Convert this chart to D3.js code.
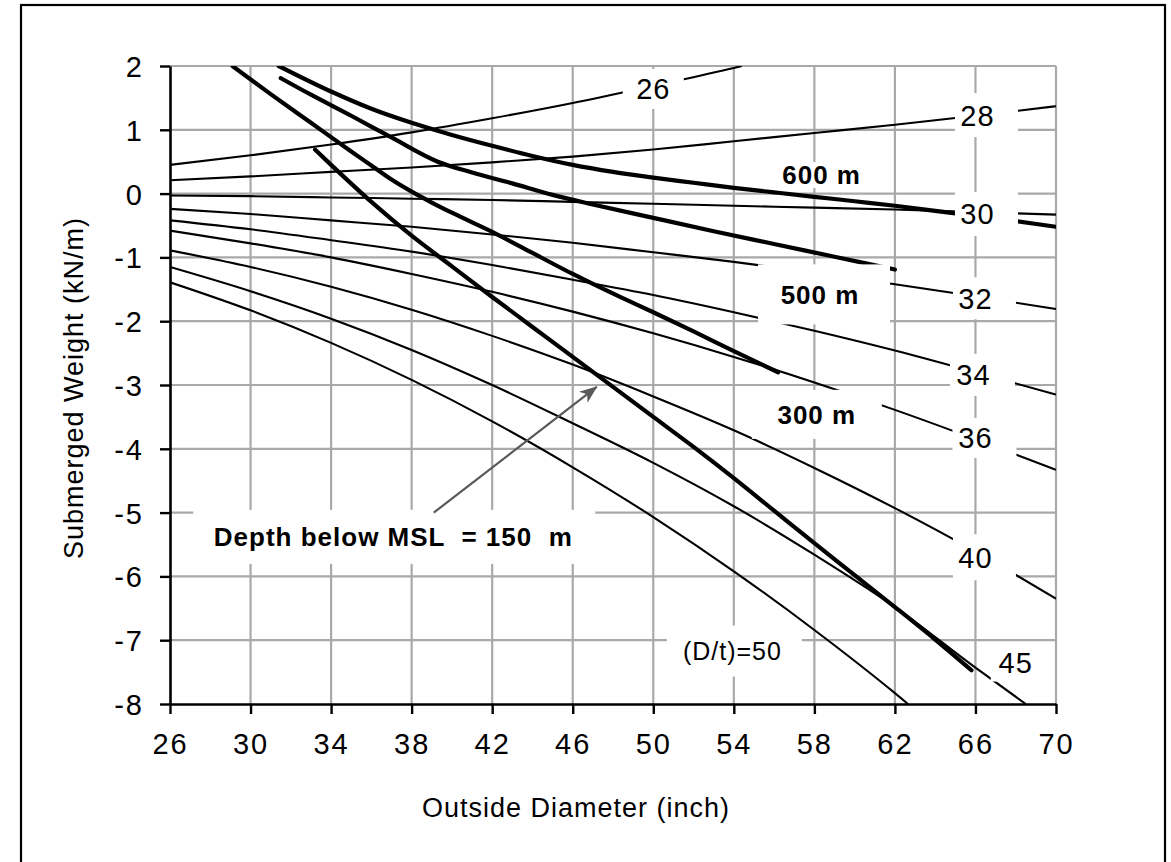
<!DOCTYPE html>
<html>
<head>
<meta charset="utf-8">
<script src="https://cdn.jsdelivr.net/npm/d3@7"></script>
<style>
  body { margin: 0; background: #fff; }
  svg text { font-family: "Liberation Sans", Arial, sans-serif; fill: #000; }
</style>
</head>
<body>
<script>
// Tick values
const xTicks = [26, 30, 34, 38, 42, 46, 50, 54, 58, 62, 66, 70];
const yTicks = [-8, -7, -6, -5, -4, -3, -2, -1, 0, 1, 2];

// Constant D/t curves: [outside diameter (inch), submerged weight (kN/m)]
const dt26 = [[26,0.45],[30,0.60],[34,0.77],[38,0.96],[42,1.18],[46,1.42],[50,1.69],[54,1.97],[54.4,2.0]];
const dt28 = [[26,0.21],[30,0.27],[34,0.34],[38,0.41],[42,0.49],[46,0.58],[50,0.69],[54,0.82],[58,0.95],[62,1.08],[66,1.22],[70,1.37]];
const dt30 = [[26,-0.03],[30,-0.04],[34,-0.06],[38,-0.08],[42,-0.10],[46,-0.13],[50,-0.16],[54,-0.19],[58,-0.22],[62,-0.25],[66,-0.29],[70,-0.33]];
const dt32 = [[26,-0.24],[30,-0.32],[34,-0.42],[38,-0.52],[42,-0.64],[46,-0.77],[50,-0.92],[54,-1.07],[58,-1.24],[62,-1.42],[66,-1.61],[70,-1.81]];
const dt34 = [[26,-0.42],[30,-0.56],[34,-0.73],[38,-0.91],[42,-1.12],[46,-1.35],[50,-1.59],[54,-1.86],[58,-2.15],[62,-2.46],[66,-2.80],[70,-3.15]];
const dt36 = [[26,-0.58],[30,-0.78],[34,-1.00],[38,-1.26],[42,-1.54],[46,-1.85],[50,-2.19],[54,-2.56],[58,-2.96],[62,-3.39],[66,-3.85],[70,-4.33]];
const dt40 = [[26,-0.89],[30,-1.15],[34,-1.46],[38,-1.82],[42,-2.23],[46,-2.68],[50,-3.18],[54,-3.71],[58,-4.30],[62,-4.93],[66,-5.61],[70,-6.35]];
const dt45 = [[26,-1.15],[30,-1.53],[34,-1.96],[38,-2.45],[42,-3.00],[46,-3.60],[50,-4.22],[54,-4.90],[58,-5.66],[62,-6.48],[66,-7.43],[68.5,-8.0]];
const dt50 = [[26,-1.39],[30,-1.83],[34,-2.34],[38,-2.92],[42,-3.57],[46,-4.29],[50,-5.07],[54,-5.92],[58,-6.84],[62,-7.83],[62.65,-8.0]];

// Depth below MSL curves
const d600 = [[31.4,2.0],[34,1.60],[36,1.33],[38,1.11],[40,0.92],[42,0.75],[44,0.59],[46,0.45],[48,0.34],[50,0.25],[52,0.17],[54,0.09],[56,0.02],[58,-0.05],[60,-0.12],[62,-0.19],[64,-0.27],[66,-0.35],[68,-0.43],[70,-0.52]];
const d500 = [[31.5,1.81],[33,1.55],[35,1.22],[37,0.88],[39.3,0.50],[41,0.33],[43,0.16],[45,-0.02],[47,-0.17],[50,-0.38],[53,-0.59],[56,-0.79],[59,-0.99],[62,-1.19]];
const d300 = [[29.1,2.0],[31,1.56],[33,1.11],[35,0.66],[36,0.44],[37,0.22],[38,0.03],[39,-0.14],[40,-0.30],[42,-0.60],[44,-0.93],[46,-1.26],[48.35,-1.62],[50,-1.86],[52,-2.16],[54,-2.47],[56.2,-2.80]];
const d150 = [[33.2,0.69],[34,0.45],[36,-0.13],[38,-0.66],[40,-1.14],[42,-1.62],[44,-2.09],[46,-2.56],[48,-3.03],[50,-3.50],[52,-3.97],[54,-4.46],[56,-4.97],[58,-5.48],[60,-5.98],[62,-6.48],[64,-6.99],[65.8,-7.47]];

const thinCurves = [dt26, dt28, dt30, dt32, dt34, dt36, dt40, dt45, dt50];
const thickCurves = [d600, d500, d300, d150];

// Labels (anchored in data units), with white boxes behind them
const labels = [
  {text: "26", d: 50.0, w: 1.64, size: 29, bold: false, bw: 61, bh: 40, bdx: 0},
  {text: "28", d: 66.1, w: 1.23, size: 29, bold: false, bw: 63, bh: 44, bdx: 9},
  {text: "30", d: 66.1, w: -0.32, size: 29, bold: false, bw: 63, bh: 44, bdx: 9},
  {text: "32", d: 66.0, w: -1.64, size: 29, bold: false, bw: 63, bh: 42, bdx: 9},
  {text: "34", d: 65.9, w: -2.84, size: 29, bold: false, bw: 65, bh: 42, bdx: 9},
  {text: "36", d: 66.0, w: -3.83, size: 29, bold: false, bw: 64, bh: 40, bdx: 9},
  {text: "40", d: 66.0, w: -5.70, size: 29, bold: false, bw: 63, bh: 46, bdx: 9},
  {text: "45", d: 68.0, w: -7.35, size: 29, bold: false, bw: 50, bh: 38, bdx: 0},
  {text: "(D/t)=50", d: 53.93, w: -7.17, size: 25, bold: false, bw: 135, bh: 51, bdx: 2},
  {text: "600 m", d: 58.36, w: 0.29, size: 26, bold: true, bw: 124, bh: 26, bdx: 0},
  {text: "500 m", d: 58.28, w: -1.58, size: 26, bold: true, bw: 132, bh: 60, bdx: 4},
  {text: "300 m", d: 58.12, w: -3.46, size: 26, bold: true, bw: 130, bh: 49, bdx: 0},
  {text: "Depth below MSL  = 150  m", d: 37.09, w: -5.38, size: 26, bold: true, bw: 402, bh: 54, bdx: 1}
];

// Arrow from the 150 m label to the curve
const arrowFrom = [39.1, -5.0];
const arrowTo = [47.19, -3.03];

const width = 1171, height = 862;
const margin = {top: 66, right: 115, bottom: 158, left: 170};
const plotW = width - margin.left - margin.right;
const plotH = height - margin.top - margin.bottom;

const gridColor = "#a9a9a9";

var svg = d3.select("body")
    .append("svg")
    .attr("width", width)
    .attr("height", height);

svg.append("rect")
    .attr("width", width).attr("height", height)
    .attr("fill", "#fff");

// outer frame (bottom edge falls outside the picture)
svg.append("rect")
    .attr("x", 21).attr("y", 5)
    .attr("width", 1144).attr("height", 880)
    .attr("fill", "none")
    .attr("stroke", "#000")
    .attr("stroke-width", 2.2);

const x = d3.scaleLinear().domain([26, 70]).range([0, plotW]);
const y = d3.scaleLinear().domain([-8, 2]).range([plotH, 0]);

const g = svg.append("g")
    .attr("transform", `translate(${margin.left},${margin.top})`);

svg.append("defs").append("clipPath")
    .attr("id", "plotClip")
    .append("rect")
    .attr("width", plotW).attr("height", plotH);

// gridlines (top and right edges included)
g.append("g").selectAll("line")
    .data(xTicks.slice(1))
    .enter().append("line")
    .attr("x1", d => x(d)).attr("x2", d => x(d))
    .attr("y1", 0).attr("y2", plotH)
    .attr("stroke", gridColor).attr("stroke-width", 2.2);

g.append("g").selectAll("line")
    .data(yTicks.slice(1))
    .enter().append("line")
    .attr("x1", 0).attr("x2", plotW)
    .attr("y1", d => y(d)).attr("y2", d => y(d))
    .attr("stroke", gridColor).attr("stroke-width", 2.2);

const line = d3.line()
    .x(d => x(d[0]))
    .y(d => y(d[1]))
    .curve(d3.curveMonotoneX);

const curves = g.append("g").attr("clip-path", "url(#plotClip)");

curves.selectAll(".thin")
    .data(thinCurves)
    .enter().append("path")
    .attr("class", "thin")
    .attr("d", line)
    .attr("fill", "none")
    .attr("stroke", "#000")
    .attr("stroke-width", 2.1);

curves.selectAll(".thick")
    .data(thickCurves)
    .enter().append("path")
    .attr("class", "thick")
    .attr("d", line)
    .attr("fill", "none")
    .attr("stroke", "#000")
    .attr("stroke-width", 4.2)
    .attr("stroke-linecap", "round");

// label boxes and text
const lab = g.append("g").selectAll("g")
    .data(labels)
    .enter().append("g")
    .attr("transform", d => `translate(${x(d.d)},${y(d.w)})`);

lab.append("rect")
    .attr("x", d => d.bdx - d.bw / 2)
    .attr("y", d => -d.bh / 2)
    .attr("width", d => d.bw)
    .attr("height", d => d.bh)
    .attr("fill", "#fff");

lab.append("text")
    .attr("text-anchor", "middle")
    .attr("y", d => d.size * 0.36)
    .attr("font-size", d => d.size)
    .attr("font-weight", d => d.bold ? "bold" : "normal")
    .attr("letter-spacing", 1)
    .style("white-space", "pre")
    .text(d => d.text);

// axes (plain hyphen for negatives, as in the original)
const xAxis = d3.axisBottom(x)
    .tickValues(xTicks)
    .tickFormat(d => String(d))
    .tickSize(10)
    .tickSizeOuter(0)
    .tickPadding(19);

const yAxis = d3.axisLeft(y)
    .tickValues(yTicks)
    .tickFormat(d => String(d))
    .tickSize(10)
    .tickSizeOuter(0)
    .tickPadding(16);

const gx = g.append("g")
    .attr("transform", `translate(0,${plotH})`)
    .call(xAxis);

const gy = g.append("g").call(yAxis);

[gx, gy].forEach(a => {
    a.select(".domain").attr("stroke", "#000").attr("stroke-width", 2.6);
    a.selectAll(".tick line").attr("stroke", "#000").attr("stroke-width", 2.4);
    a.selectAll(".tick text")
        .attr("font-size", 29)
        .attr("letter-spacing", 2)
        .attr("font-family", "Liberation Sans, Arial, sans-serif")
        .attr("fill", "#000");
});
gy.selectAll(".tick text").attr("dy", "0.36em");

// arrow
const defs = svg.select("defs");
defs.append("marker")
    .attr("id", "head")
    .attr("viewBox", "0 -7 18 14")
    .attr("refX", 17).attr("refY", 0)
    .attr("markerWidth", 18).attr("markerHeight", 14)
    .attr("markerUnits", "userSpaceOnUse")
    .attr("orient", "auto")
    .append("path")
    .attr("d", "M0,-7L18,0L0,7L5,0Z")
    .attr("fill", "#595959");

g.append("line")
    .attr("x1", x(arrowFrom[0])).attr("y1", y(arrowFrom[1]))
    .attr("x2", x(arrowTo[0])).attr("y2", y(arrowTo[1]))
    .attr("stroke", "#595959")
    .attr("stroke-width", 2.2)
    .attr("marker-end", "url(#head)");

// axis titles
svg.append("text")
    .attr("x", 576).attr("y", 817)
    .attr("text-anchor", "middle")
    .attr("font-size", 27)
    .attr("letter-spacing", 1)
    .text("Outside Diameter (inch)");

svg.append("text")
    .attr("transform", "translate(83,388) rotate(-90)")
    .attr("text-anchor", "middle")
    .attr("font-size", 27)
    .attr("letter-spacing", 1)
    .text("Submerged Weight (kN/m)");
</script>
</body>
</html>
